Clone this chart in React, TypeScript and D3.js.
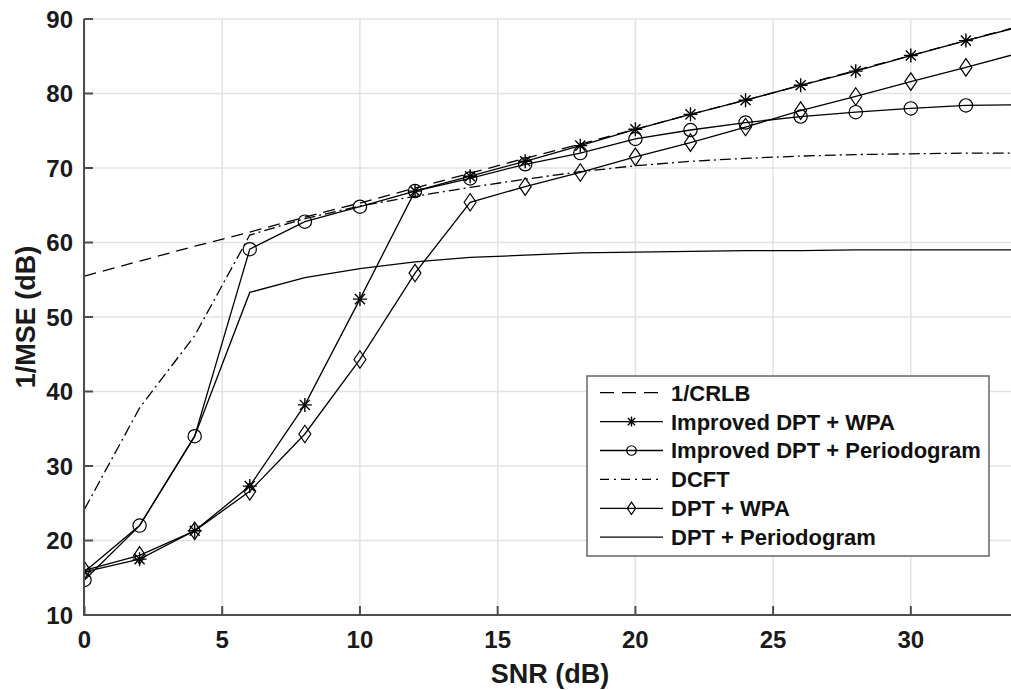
import React from "react";
import * as d3 from "d3";

const snr = [0, 2, 4, 6, 8, 10, 12, 14, 16, 18, 20, 22, 24, 26, 28, 30, 32, 34];
const crlb = [55.5, 57.5, 59.5, 61.4, 63.4, 65.3, 67.3, 69.3, 71.3, 73.2, 75.2, 77.2, 79.1, 81.1, 83.1, 85.1, 87.1, 89.1];
const impWpa = [15.8, 17.5, 21.3, 27.3, 38.2, 52.4, 66.9, 68.9, 70.9, 73.0, 75.2, 77.2, 79.1, 81.1, 83.0, 85.1, 87.1, 89.0];
const impPer = [14.7, 22.0, 34.0, 59.1, 62.8, 64.8, 66.9, 68.6, 70.5, 72.0, 73.9, 75.1, 76.1, 76.9, 77.5, 78.0, 78.4, 78.5];
const dcft = [24.2, 37.8, 47.5, 61.0, 63.2, 64.9, 66.2, 67.4, 68.5, 69.5, 70.3, 70.9, 71.3, 71.6, 71.8, 71.9, 72.0, 72.0];
const dptWpa = [16.0, 18.0, 21.3, 26.6, 34.3, 44.3, 55.9, 65.4, 67.5, 69.4, 71.5, 73.4, 75.5, 77.7, 79.6, 81.6, 83.5, 85.5];
const dptPer = [15.8, 22.0, 34.0, 53.3, 55.3, 56.5, 57.4, 58.0, 58.3, 58.6, 58.7, 58.8, 58.9, 58.9, 59.0, 59.0, 59.0, 59.0];

const xTicks = [0, 5, 10, 15, 20, 25, 30];
const yTicks = [10, 20, 30, 40, 50, 60, 70, 80, 90];

const legendLabels = [
  "1/CRLB",
  "Improved DPT + WPA",
  "Improved DPT + Periodogram",
  "DCFT",
  "DPT + WPA",
  "DPT + Periodogram",
];

type Marker = "none" | "star" | "circle" | "diamond";
const seriesList: { values: number[]; dash: string; marker: Marker }[] = [
  { values: crlb, dash: "12,7", marker: "none" },
  { values: impWpa, dash: "", marker: "star" },
  { values: impPer, dash: "", marker: "circle" },
  { values: dcft, dash: "11,4,2,4", marker: "none" },
  { values: dptWpa, dash: "", marker: "diamond" },
  { values: dptPer, dash: "", marker: "none" },
];

const FONT = "'Liberation Sans', Arial, Helvetica, sans-serif";

function MarkerShape({ type, cx, cy, s }: { type: Marker; cx: number; cy: number; s: number }) {
  const st = { stroke: "#000", strokeWidth: 1.2, fill: "none" };
  if (type === "circle") return <circle cx={cx} cy={cy} r={s * 0.95} {...st} />;
  if (type === "diamond")
    return (
      <path
        d={`M${cx},${cy - s * 1.25}L${cx + s * 0.85},${cy}L${cx},${cy + s * 1.25}L${cx - s * 0.85},${cy}Z`}
        {...st}
      />
    );
  if (type === "star") {
    const d = s * 0.72;
    return (
      <path
        d={`M${cx - s},${cy}L${cx + s},${cy}M${cx},${cy - s}L${cx},${cy + s}M${cx - d},${cy - d}L${cx + d},${cy + d}M${cx - d},${cy + d}L${cx + d},${cy - d}`}
        {...st}
        strokeWidth={1.4}
      />
    );
  }
  return null;
}

export default function App() {
  const W = 1011;
  const H = 690;
  const left = 84;
  const top = 19;
  const bottom = 615;
  const x = d3.scaleLinear().domain([0, 34]).range([84.5, 1021]);
  const y = d3.scaleLinear().domain([10, 90]).range([bottom, top]);
  const line = d3
    .line<number>()
    .x((_, i) => x(snr[i]))
    .y((v) => y(v));

  const axisColor = "#4d4d4d";
  const gridColor = "#e3e3e3";

  const lx0 = 600;
  const lx1 = 663;
  const ly0 = 392.7;
  const lstep = 28.9;

  return (
    <svg
      width={W}
      height={H}
      style={{ position: "absolute", left: 0, top: 0, background: "#fff" }}
      fontFamily={FONT}
    >
      <defs>
        <clipPath id="plotClip">
          <rect x={left} y={top - 2} width={W - left} height={bottom - top + 2} />
        </clipPath>
      </defs>
      <rect x={0} y={0} width={W} height={H} fill="#fff" />
      {/* grid */}
      <g stroke={gridColor} strokeWidth={1.5}>
        {xTicks.map((t) => (
          <line key={"gx" + t} x1={x(t)} x2={x(t)} y1={top} y2={bottom} />
        ))}
        {yTicks.map((t) => (
          <line key={"gy" + t} x1={left} x2={W} y1={y(t)} y2={y(t)} />
        ))}
      </g>
      {/* series */}
      <g clipPath="url(#plotClip)">
        {seriesList.map((s, i) => (
          <path
            key={"s" + i}
            d={line(s.values) || ""}
            fill="none"
            stroke="#000"
            strokeWidth={1.3}
            strokeDasharray={s.dash || undefined}
          />
        ))}
        {seriesList.map((s, i) =>
          s.marker === "none"
            ? null
            : s.values.map((v, j) => (
                <MarkerShape key={"m" + i + "-" + j} type={s.marker} cx={x(snr[j])} cy={y(v)} s={7} />
              ))
        )}
      </g>
      {/* axes */}
      <g stroke={axisColor} strokeWidth={2}>
        <line x1={left} x2={left} y1={top} y2={bottom + 1} />
        <line x1={left - 1} x2={W} y1={bottom} y2={bottom} />
        {yTicks.map((t) => (
          <line key={"ty" + t} x1={left} x2={left + 9} y1={y(t)} y2={y(t)} />
        ))}
        {xTicks.map((t) => (
          <line key={"tx" + t} x1={x(t)} x2={x(t)} y1={bottom} y2={bottom - 9} />
        ))}
      </g>
      <g fontSize={24} fontWeight="bold" fill="#1a1a1a">
        {yTicks.map((t) => (
          <text key={"ly" + t} x={73} y={y(t)} dy="0.36em" textAnchor="end">
            {t}
          </text>
        ))}
        {xTicks.map((t) => (
          <text key={"lx" + t} x={x(t)} y={648} textAnchor="middle">
            {t}
          </text>
        ))}
      </g>
      <text x={550} y={683} fontSize={27} fontWeight="bold" textAnchor="middle" fill="#1a1a1a">
        SNR (dB)
      </text>
      <text
        transform={`translate(35,${(top + bottom) / 2}) rotate(-90)`}
        fontSize={27}
        fontWeight="bold"
        textAnchor="middle"
        fill="#1a1a1a"
      >
        1/MSE (dB)
      </text>
      {/* legend */}
      <rect x={587} y={376} width={402} height={180} fill="#fff" stroke="#666" strokeWidth={1.5} />
      {seriesList.map((s, i) => {
        const ly = ly0 + i * lstep;
        return (
          <g key={"lg" + i}>
            <line
              x1={lx0}
              x2={lx1}
              y1={ly}
              y2={ly}
              stroke="#000"
              strokeWidth={1.3}
              strokeDasharray={s.dash ? (i === 0 ? "14,8" : "9,5,2,5") : undefined}
            />
            {s.marker !== "none" && <MarkerShape type={s.marker} cx={(lx0 + lx1) / 2} cy={ly} s={5} />}
            <text x={671} y={ly} dy="0.36em" fontSize={22} fontWeight="bold" fill="#111">
              {legendLabels[i]}
            </text>
          </g>
        );
      })}
    </svg>
  );
}
